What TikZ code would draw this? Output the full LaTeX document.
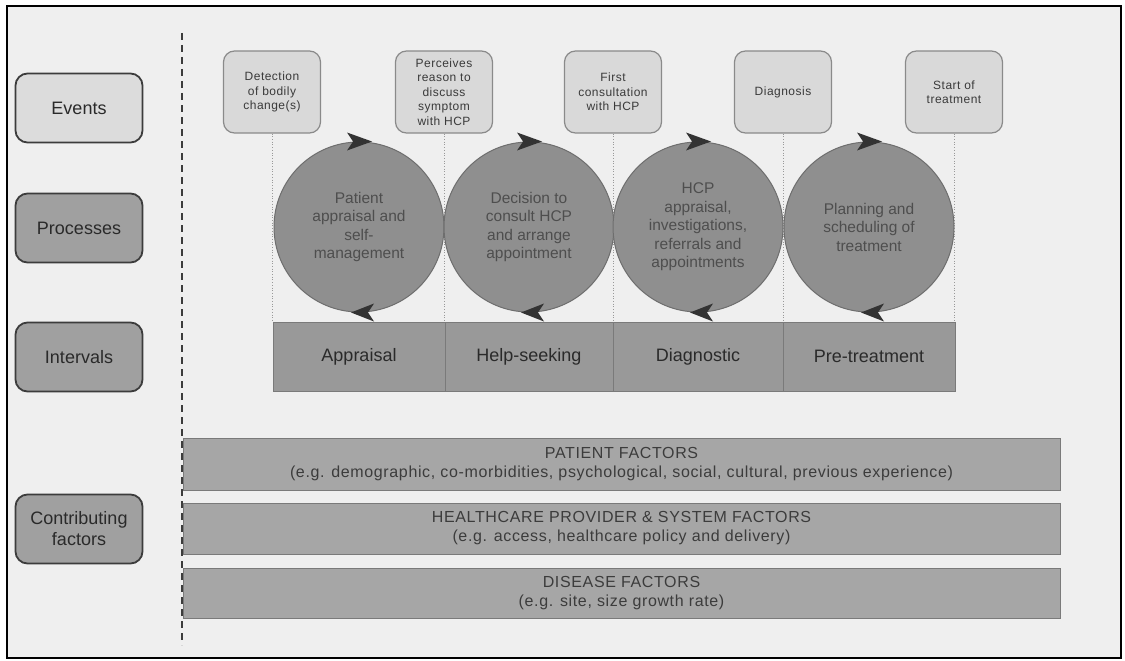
\documentclass[tikz,border=0pt]{standalone}
\usepackage{fontspec}
\setmainfont{Liberation Sans}
\newfontfamily\spacedfont[LetterSpace=4]{Liberation Sans}
\usetikzlibrary{calc}
\definecolor{bgc}{HTML}{EFEFEF}
\definecolor{labfillA}{HTML}{DCDCDC}
\definecolor{labfillB}{HTML}{A0A0A0}
\definecolor{labborder}{HTML}{3C3C3C}
\definecolor{labtext}{HTML}{2A2A2A}
\definecolor{evfill}{HTML}{D9D9D9}
\definecolor{evborder}{HTML}{8A8A8A}
\definecolor{evtext}{HTML}{3A3A3A}
\definecolor{cirfill}{HTML}{8F8F8F}
\definecolor{cirborder}{HTML}{6E6E6E}
\definecolor{cirtext}{HTML}{4E4E4E}
\definecolor{intfill}{HTML}{999999}
\definecolor{intborder}{HTML}{7A7A7A}
\definecolor{factfill}{HTML}{A6A6A6}
\definecolor{facttext}{HTML}{3C3C3C}
\definecolor{arrc}{HTML}{333333}
\begin{document}
\begin{tikzpicture}[x=1pt,y=-1pt,
  lab/.style={draw=labborder, line width=1.8pt, rounded corners=12pt, minimum width=127pt, minimum height=69pt, inner sep=0pt, align=center, text=labtext, font=\fontsize{18}{21}\selectfont},
  evbox/.style={draw=evborder, fill=evfill, line width=1.2pt, rounded corners=11pt, minimum width=97pt, minimum height=82pt, inner sep=0pt, align=center, text=evtext, font=\spacedfont\fontsize{12}{14.5}\selectfont},
  cir/.style={circle, draw=cirborder, fill=cirfill, line width=1pt, minimum size=170pt, inner sep=0pt, align=center, text=cirtext, font=\fontsize{15.5}{18.5}\selectfont},
  intbox/.style={draw=intborder, fill=intfill, line width=1pt, minimum height=69pt, inner sep=0pt, text=labtext, font=\fontsize{18}{21}\selectfont},
  factbox/.style={draw=intborder, fill=factfill, line width=1pt, minimum width=877pt, inner sep=0pt, align=center, text=facttext, font=\spacedfont\fontsize{16}{19}\selectfont},
  vdot/.style={draw=gray!80, dotted, line width=0.7pt},
  toparr/.pic={\fill[arrc] (13,0) -- (-12,-9) -- (-6,0) -- (-12,9) -- cycle;},
  botarr/.pic={\fill[arrc] (-8,0) -- (15,-9) -- (9,0) -- (15,9) -- cycle;}
]
\useasboundingbox (0,0) rectangle (1125,661);
\fill[white] (0,0) rectangle (1125,661);
\draw[line width=2.5pt, fill=bgc] (7,6) rectangle (1121,658);

% left labels
\node[lab, fill=labfillA] (lev) at (79,108) {Events};
\node[lab, fill=labfillB] (lpr) at (79,228) {Processes};
\node[lab, fill=labfillB] (lin) at (79,357) {Intervals};
\node[lab, fill=labfillB] (lcf) at (79,529) {Contributing\\factors};

% events
\node[evbox] (e1) at (272,92) {Detection\\of bodily\\change(s)};
\node[evbox] (e2) at (444,92) {Perceives\\reason to\\discuss\\symptom\\with HCP};
\node[evbox] (e3) at (613,92) {First\\consultation\\with HCP};
\node[evbox] (e4) at (783,92) {Diagnosis};
\node[evbox] (e5) at (954,92) {Start of\\treatment};

% intervals
\node[intbox, minimum width=172pt] (i1) at (359,356.5) {Appraisal};
\node[intbox, minimum width=168pt] (i2) at (529,356.5) {Help-seeking};
\node[intbox, minimum width=170pt] (i3) at (698,356.5) {Diagnostic};
\node[intbox, minimum width=172pt] (i4) at (869,356.5) {Pre-treatment};

% dotted guides
\draw[vdot] (e1.south) -- (e1.south |- i1.north);
\draw[vdot] (e2.south) -- (e2.south |- i2.north);
\draw[vdot] (e3.south) -- (e3.south |- i3.north);
\draw[vdot] (e4.south) -- (e4.south |- i4.north);
\draw[vdot] (e5.south) -- (e5.south |- i4.north);

% processes
\node[cir] (p1) at (359,227) {Patient\\appraisal and\\self-\\management};
\node[cir] (p2) at (529,227) {Decision to\\consult HCP\\and arrange\\appointment};
\node[cir] (p3) at (698,227) {HCP\\appraisal,\\investigations,\\referrals and\\appointments};
\node[cir] (p4) at (869,227) {Planning and\\scheduling of\\treatment};

\foreach \p in {p1,p2,p3,p4}{
  \pic at (\p.north) {toparr};
  \pic at (\p.south) {botarr};
}

% contributing factors
\node[factbox, minimum height=52pt] (f1) at (621.5,464) {PATIENT FACTORS\\(e.g. demographic, co-morbidities, psychological, social, cultural, previous experience)};
\node[factbox, minimum height=51pt] (f2) at (621.5,528.5) {HEALTHCARE PROVIDER \& SYSTEM FACTORS\\(e.g. access, healthcare policy and delivery)};
\node[factbox, minimum height=50pt] (f3) at (621.5,593) {DISEASE FACTORS\\(e.g. site, size growth rate)};

% dashed separator
\draw[labborder, line width=1.6pt, dash pattern=on 7pt off 5pt] (182,33) -- (182,645);
\end{tikzpicture}
\end{document}
